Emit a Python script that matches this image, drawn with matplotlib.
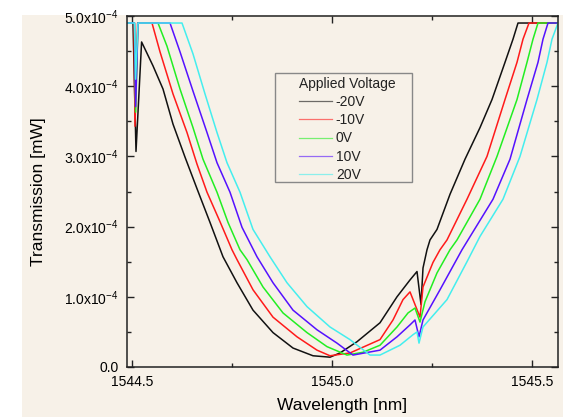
import matplotlib
matplotlib.use("Agg")
import matplotlib.pyplot as plt
from matplotlib.ticker import FuncFormatter, MultipleLocator
from matplotlib.lines import Line2D
from matplotlib.patches import Rectangle

plt.rcParams['font.family'] = ['Liberation Sans', 'DejaVu Sans']
plt.rcParams['mathtext.fontset'] = 'custom'
plt.rcParams['mathtext.rm'] = 'Liberation Sans'
plt.rcParams['mathtext.default'] = 'rm'

labels = ['-20V', '-10V', '0V', '10V', '20V']
colors = ['#111111', '#ff1a1a', '#22ee22', '#5511ff', '#44eeee']

# wavelength [nm], transmission [1e-4 mW]
wl_m20 = [1544.4875, 1544.5025, 1544.510, 1544.524, 1544.5525, 1544.5775, 1544.6025, 1544.6325,
          1544.6625, 1544.695, 1544.7275, 1544.7625, 1544.8025, 1544.8525, 1544.9025, 1544.9525,
          1544.995, 1545.020, 1545.0625, 1545.120, 1545.1625, 1545.195, 1545.2125, 1545.2225,
          1545.2275, 1545.2375, 1545.245, 1545.2625, 1545.295, 1545.3325, 1545.370, 1545.400,
          1545.4325, 1545.4525, 1545.465, 1545.565]
tr_m20 = [4.90, 4.90, 3.07, 4.63, 4.29, 3.96, 3.46, 2.99, 2.54, 2.06, 1.57, 1.20, 0.81, 0.49, 0.27,
          0.16, 0.14, 0.20, 0.36, 0.63, 1.00, 1.24, 1.36, 0.89, 1.41, 1.67, 1.81, 1.96, 2.46, 2.96,
          3.41, 3.81, 4.34, 4.67, 4.90, 4.90]

wl_m10 = [1544.4875, 1544.505, 1544.5075, 1544.514, 1544.550, 1544.570, 1544.6025, 1544.6375,
          1544.6625, 1544.6875, 1544.720, 1544.750, 1544.7625, 1544.8025, 1544.8525, 1544.9125,
          1544.9625, 1544.995, 1545.045, 1545.120, 1545.1525, 1545.1775, 1545.195, 1545.220,
          1545.2275, 1545.2525, 1545.270, 1545.2875, 1545.3375, 1545.3875, 1545.4325, 1545.4625,
          1545.4775, 1545.4925, 1545.565]
tr_m10 = [4.90, 4.90, 3.43, 4.90, 4.90, 4.49, 3.89, 3.34, 2.89, 2.49, 2.07, 1.67, 1.53, 1.10, 0.71,
          0.43, 0.24, 0.16, 0.20, 0.39, 0.67, 0.96, 1.07, 0.71, 1.14, 1.49, 1.67, 1.81, 2.39, 3.00,
          3.81, 4.34, 4.67, 4.90, 4.90]

wl_0 = [1544.4875, 1544.5062, 1544.509, 1544.515, 1544.565, 1544.5875, 1544.620, 1544.6525,
        1544.6775, 1544.7125, 1544.740, 1544.770, 1544.7875, 1544.8275, 1544.8775, 1544.9375,
        1544.9875, 1545.0375, 1545.0775, 1545.120, 1545.1625, 1545.190, 1545.2075, 1545.220,
        1545.2325, 1545.2625, 1545.295, 1545.3125, 1545.370, 1545.4125, 1545.4625, 1545.4875,
        1545.5025, 1545.515, 1545.565]
tr_0 = [4.90, 4.90, 3.63, 4.90, 4.90, 4.57, 3.96, 3.41, 2.96, 2.49, 2.06, 1.67, 1.53, 1.14, 0.77,
        0.49, 0.29, 0.17, 0.21, 0.31, 0.57, 0.77, 0.84, 0.64, 0.93, 1.34, 1.67, 1.81, 2.39, 3.00,
        3.81, 4.34, 4.67, 4.90, 4.90]

wl_10 = [1544.4875, 1544.5062, 1544.509, 1544.515, 1544.595, 1544.620, 1544.6525, 1544.6875,
         1544.7125, 1544.745, 1544.775, 1544.8125, 1544.8525, 1544.9025, 1544.9625, 1545.0125,
         1545.0525, 1545.120, 1545.1625, 1545.195, 1545.2075, 1545.2175, 1545.2275, 1545.270,
         1545.325, 1545.4025, 1545.445, 1545.4875, 1545.515, 1545.5275, 1545.540, 1545.565]
tr_10 = [4.90, 4.90, 3.71, 4.90, 4.90, 4.49, 3.93, 3.34, 2.91, 2.49, 1.99, 1.57, 1.20, 0.81, 0.53,
         0.34, 0.17, 0.24, 0.43, 0.60, 0.67, 0.43, 0.67, 1.10, 1.67, 2.39, 2.96, 3.81, 4.34, 4.67,
         4.90, 4.90]

wl_20 = [1544.4875, 1544.5062, 1544.509, 1544.515, 1544.625, 1544.6525, 1544.6825, 1544.7125,
         1544.7375, 1544.770, 1544.8025, 1544.845, 1544.8875, 1544.9375, 1544.995, 1545.045,
         1545.095, 1545.120, 1545.170, 1545.2025, 1545.2125, 1545.2175, 1545.2275, 1545.2875,
         1545.3375, 1545.370, 1545.4275, 1545.470, 1545.5125, 1545.5375, 1545.550, 1545.565]
tr_20 = [4.90, 4.90, 4.10, 4.90, 4.90, 4.46, 3.89, 3.34, 2.91, 2.49, 1.96, 1.57, 1.20, 0.86, 0.57,
         0.39, 0.17, 0.17, 0.31, 0.46, 0.50, 0.34, 0.57, 0.96, 1.50, 1.86, 2.39, 3.00, 3.81, 4.34,
         4.67, 4.90]

series = [(wl_m20, tr_m20), (wl_m10, tr_m10), (wl_0, tr_0), (wl_10, tr_10), (wl_20, tr_20)]

xticks = [1544.5, 1545.0, 1545.5]
xticklabels = ['1544.5', '1545.0', '1545.5']
yticks = [0.0, 1.0, 2.0, 3.0, 4.0, 5.0]

bg = '#f7f1e8'
W, H = 563, 417
fig = plt.figure(figsize=(W / 100, H / 100), dpi=100, facecolor='white')
fig.patches.append(Rectangle((22 / W, 0), 1 - 22 / W, 1 - 15 / H, transform=fig.transFigure,
                             facecolor=bg, edgecolor='none', zorder=-10))

ax = fig.add_axes([127 / W, 1 - 367 / H, 431 / W, 351 / H])
ax.set_facecolor(bg)

for (wl, tr), c in zip(series, colors):
    ax.plot(wl, [t * 1e-4 for t in tr], color=c, lw=1.1, solid_joinstyle='round')

ax.set_xlim(1544.4875, 1545.565)
ax.set_ylim(0, 5e-4)
ax.set_xticks(xticks)
ax.set_xticklabels(xticklabels)
ax.set_yticks([v * 1e-4 for v in yticks])
ax.xaxis.set_minor_locator(MultipleLocator(0.25))
ax.yaxis.set_minor_locator(MultipleLocator(0.5e-4))


def yfmt(v, pos):
    m = v / 1e-4
    if abs(m) < 1e-9:
        return '0.0'
    return '%.1fx10$^{-4}$' % m


ax.yaxis.set_major_formatter(FuncFormatter(yfmt))
ax.tick_params(which='both', direction='in', top=True, right=True, color='#222222', width=1.0)
ax.tick_params(which='major', length=5, labelsize=10, pad=6)
ax.tick_params(which='minor', length=3)
for s in ax.spines.values():
    s.set_linewidth(1.1)
    s.set_color('#222222')

ax.set_xlabel('Wavelength [nm]', fontsize=12.5, labelpad=6)
ax.set_ylabel('Transmission [mW]', fontsize=12.5, labelpad=13)

# legend frame
x0, x1, y0, y1 = 275, 412, 73, 182
ax.add_patch(Rectangle(((x0 - 127) / 431, (367 - y1) / 351), (x1 - x0) / 431, (y1 - y0) / 351,
                       transform=ax.transAxes, facecolor='none', edgecolor='#888888', lw=1.0,
                       zorder=5))
handles = [Line2D([], [], color=c, lw=0.9, alpha=0.6) for c in colors]
leg = ax.legend(handles, labels, title='Applied Voltage', loc='upper left',
                bbox_to_anchor=((299 - 127) / 431, (367 - 77) / 351), borderaxespad=0,
                borderpad=0, frameon=False, fontsize=10, title_fontsize=10,
                handlelength=2.4, handletextpad=0.25, labelspacing=0.3, alignment='left')
for t in leg.get_texts():
    t.set_color('#222222')
leg.get_title().set_color('#222222')

fig.savefig('out.png', dpi=100, facecolor='white')
